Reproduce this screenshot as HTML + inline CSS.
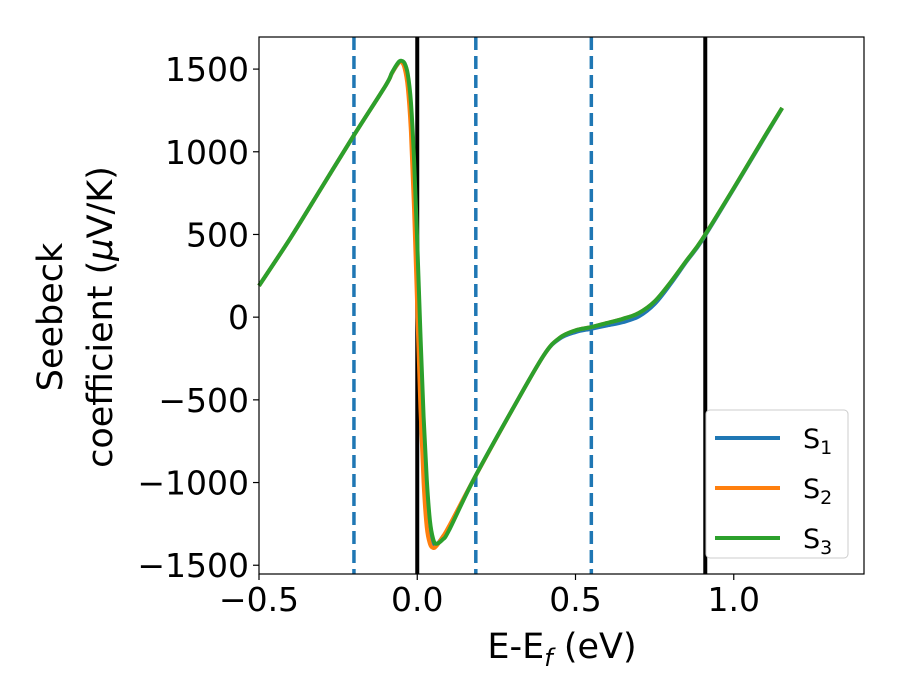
<!DOCTYPE html>
<html><head><meta charset="utf-8"><style>
body{margin:0;background:#fff}
svg{display:block;font-family:"DejaVu Sans","Liberation Sans",sans-serif}
</style></head><body>
<svg id="chart" width="900" height="700">
<rect x="0" y="0" width="900" height="700" fill="#fff"/>
<g id="plot"></g>
<g id="axes"></g>
<text x="0" y="0" transform="translate(62,317) rotate(-90)" font-size="35" text-anchor="middle">Seebeck</text>
<text x="0" y="0" transform="translate(112,317) rotate(-90)" font-size="35" text-anchor="middle">coefficient  (<tspan font-style="italic">μ</tspan>V/K)</text>
<text x="562" y="658" font-size="35" text-anchor="middle">E-E<tspan font-size="24" dy="8" font-style="italic">f</tspan><tspan dy="-8"> (eV)</tspan></text>
<g>
<rect x="706" y="410" width="142" height="148" rx="4" fill="#fff" stroke="#ccc" stroke-width="1"/>
<g><line x1="715" y1="438" x2="780" y2="438" stroke="#1f77b4" stroke-width="4"/><text x="803" y="448" font-size="27">S<tspan font-size="19" dy="6">1</tspan></text></g>
<g><line x1="715" y1="488" x2="780" y2="488" stroke="#ff7f0e" stroke-width="4"/><text x="803" y="498" font-size="27">S<tspan font-size="19" dy="6">2</tspan></text></g>
<g><line x1="715" y1="538" x2="780" y2="538" stroke="#2ca02c" stroke-width="4"/><text x="803" y="548" font-size="27">S<tspan font-size="19" dy="6">3</tspan></text></g>
</g>
</svg>
<script>
const xTicks=[-0.5,0.0,0.5,1.0];
const xTickLabels=["\u22120.5","0.0","0.5","1.0"];
const yTicks=[-1500,-1000,-500,0,500,1000,1500];
const yTickLabels=["\u22121500","\u22121000","\u2212500","0","500","1000","1500"];
const dashedLines=[-0.2,0.185,0.55];
const solidLines=[0.0,0.91];
const energy=[-0.5,-0.4,-0.3,-0.2,-0.1,-0.08,-0.06,-0.05,-0.04,-0.03,-0.02,-0.01,0,0.01,0.02,0.03,0.04,0.05,0.06,0.08,0.1,0.18,0.3,0.4,0.45,0.5,0.55,0.6,0.65,0.7,0.75,0.8,0.85,0.9,1.0,1.1,1.153];
const s1=[190,480,790,1100,1400,1475,1535,1545,1520,1430,1200,800,250,-350,-850,-1180,-1340,-1385,-1380,-1330,-1270,-975,-560,-230,-130,-90,-70,-50,-30,5,80,200,335,465,777,1096,1265];
const s2=[190,480,790,1100,1400,1475,1535,1543,1505,1390,1120,650,50,-550,-1000,-1270,-1370,-1395,-1385,-1330,-1265,-975,-560,-230,-125,-80,-60,-35,-10,25,95,210,340,470,780,1100,1265];
const s3=[190,480,790,1100,1400,1478,1540,1550,1535,1470,1300,950,450,-100,-600,-980,-1230,-1340,-1370,-1345,-1290,-975,-560,-230,-125,-80,-60,-35,-10,25,95,210,340,470,780,1100,1265];
const L=259,R=864,T=37,B=574,xMin=-0.5,xMax=1.4115,yMin=-1553,yMax=1694;
const sx=v=>L+(v-xMin)/(xMax-xMin)*(R-L);
const sy=v=>B-(v-yMin)/(yMax-yMin)*(B-T);
const NS="http://www.w3.org/2000/svg";
const plot=document.getElementById('plot'),axes=document.getElementById('axes');
function mk(tag,attrs,parent){const e=document.createElementNS(NS,tag);for(const k in attrs)e.setAttribute(k,attrs[k]);parent.appendChild(e);return e;}
function pathFor(xs,ys){const p=xs.map((x,i)=>[sx(x),sy(ys[i])]);let d="M"+p[0][0]+","+p[0][1];
for(let i=0;i<p.length-1;i++){const p0=p[Math.max(0,i-1)],p1=p[i],p2=p[i+1],p3=p[Math.min(p.length-1,i+2)];
const c1=[p1[0]+(p2[0]-p0[0])/6,p1[1]+(p2[1]-p0[1])/6],c2=[p2[0]-(p3[0]-p1[0])/6,p2[1]-(p3[1]-p1[1])/6];
d+=" C"+c1[0]+","+c1[1]+" "+c2[0]+","+c2[1]+" "+p2[0]+","+p2[1];}return d;}
dashedLines.forEach((v,i)=>{const l=mk('line',{x1:sx(v),x2:sx(v),y1:T,y2:B,stroke:'#1f77b4','stroke-width':3.5,'stroke-dasharray':'13,6'},plot);

});
solidLines.forEach((v,i)=>{const l=mk('line',{x1:sx(v),x2:sx(v),y1:T,y2:B,stroke:'#000','stroke-width':4},plot);

});
[[s1,'#1f77b4','series-s1'],[s2,'#ff7f0e','series-s2'],[s3,'#2ca02c','series-s3']].forEach(([ys,c,n])=>{
const p=mk('path',{d:pathFor(energy,ys),fill:'none',stroke:c,'stroke-width':4,'stroke-linejoin':'round'},plot);

});
const fr=mk('rect',{x:L,y:T,width:R-L,height:B-T,fill:'none',stroke:'#000','stroke-width':1.2},axes);


xTicks.forEach((v,i)=>{mk('line',{x1:sx(v),x2:sx(v),y1:B,y2:B+6,stroke:'#000','stroke-width':1.2},axes);
const t=mk('text',{x:sx(v),y:B+37,'font-size':33,'text-anchor':'middle'},axes);t.textContent=xTickLabels[i];

});
yTicks.forEach((v,i)=>{mk('line',{x1:L-6,x2:L,y1:sy(v),y2:sy(v),stroke:'#000','stroke-width':1.2},axes);
const t=mk('text',{x:L-10,y:sy(v)+12,'font-size':33,'text-anchor':'end'},axes);t.textContent=yTickLabels[i];

});
</script>
</body></html>
